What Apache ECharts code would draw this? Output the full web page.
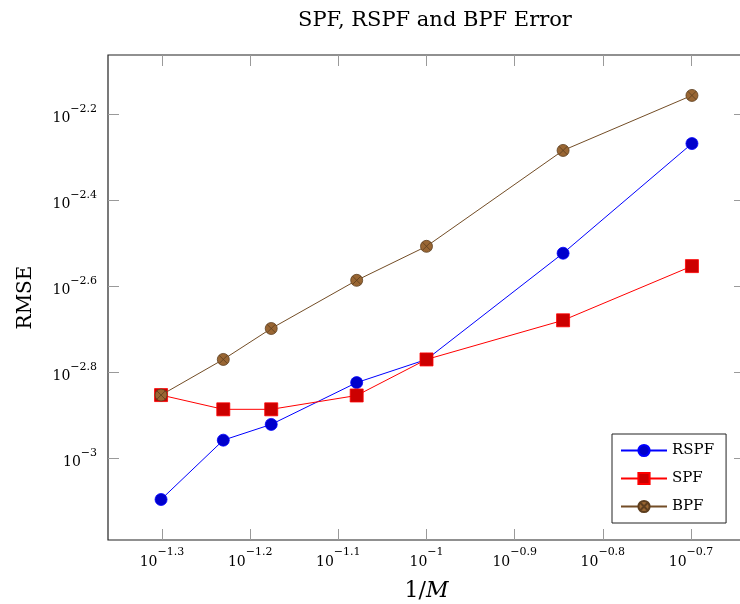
<!DOCTYPE html>
<html>
<head>
<meta charset="utf-8">
<script src="https://cdn.jsdelivr.net/npm/echarts@6/dist/echarts.min.js"></script>
<style>
  html, body { margin: 0; padding: 0; background: #fff; }
  #chart { width: 740px; height: 604px; }
</style>
</head>
<body>
<div id="chart"></div>
<script>
// Number of particles M; plotted against 1/M on a log scale
const particleCounts = [20, 17, 15, 12, 10, 7, 5];

// RMSE for each filter
const rspfRmse = [0.000802, 0.001102, 0.001199, 0.001500, 0.001698, 0.002999, 0.005395];
const spfRmse  = [0.001403, 0.001300, 0.001300, 0.001400, 0.001698, 0.002094, 0.002799];
const bpfRmse  = [0.001403, 0.001698, 0.002004, 0.002594, 0.003112, 0.005200, 0.006982];

// Tick exponents (powers of ten)
const xTickExponents = [-1.3, -1.2, -1.1, -1.0, -0.9, -0.8, -0.7];
const yTickExponents = [-3.0, -2.8, -2.6, -2.4, -2.2];

const FONT = '"DejaVu Serif", "Liberation Serif", serif';

const log10 = v => Math.log10(v);
const xs = particleCounts.map(m => log10(1 / m));
const pairs = arr => arr.map((v, i) => [xs[i], log10(v)]);

function powLabel(v) {
  const r = Math.round(v * 10) / 10;
  const s = (Number.isInteger(r) ? String(Math.abs(r)) : Math.abs(r).toFixed(1));
  return '{b|10}{s|' + (r < 0 ? '\u2212' : '') + s + '}';
}
const labelRich = {
  b: { fontFamily: FONT, fontSize: 14, color: '#000', verticalAlign: 'bottom', lineHeight: 22 },
  s: { fontFamily: FONT, fontSize: 11, color: '#000', verticalAlign: 'top', lineHeight: 22, padding: [0, 0, 10, 0] }
};

const tickStyle = { show: true, inside: true, length: 11, lineStyle: { color: '#9a9a9a', width: 1 } };

// circle with a cross (otimes marker)
const otimes = 'path://M0 10A10 10 0 1 1 20 10A10 10 0 1 1 0 10ZM2.93 2.93L17.07 17.07M17.07 2.93L2.93 17.07';

const chart = echarts.init(document.getElementById('chart'));
chart.setOption({
  animation: false,
  backgroundColor: '#fff',
  title: {
    text: 'SPF, RSPF and BPF Error',
    left: 430, top: 5, textAlign: 'center',
    textStyle: { fontFamily: FONT, fontSize: 21, fontWeight: 'normal', color: '#000' }
  },
  grid: {
    left: 108, top: 55, width: 637, height: 485,
    outerBoundsMode: 'none', containLabel: false,
    show: true, borderColor: '#222', borderWidth: 1.2, backgroundColor: 'transparent'
  },
  legend: {
    orient: 'vertical', left: 612, top: 434,
    backgroundColor: '#fff', borderColor: '#222', borderWidth: 1,
    padding: [9, 12, 9, 8], itemWidth: 46, itemHeight: 14, itemGap: 13,
    textStyle: { fontFamily: FONT, fontSize: 15, color: '#000' },
    data: ['RSPF', 'SPF', 'BPF']
  },
  xAxis: [
    {
      type: 'value', position: 'bottom', min: -1.3612, max: -0.6388,
      axisLine: { show: false }, splitLine: { show: false },
      axisTick: Object.assign({ customValues: xTickExponents }, tickStyle),
      axisLabel: { customValues: xTickExponents, formatter: powLabel, rich: labelRich, margin: 7 },
      name: '{n|1/}{i|M}', nameLocation: 'middle', nameGap: 40,
      nameTextStyle: {
        rich: {
          n: { fontFamily: FONT, fontSize: 22, color: '#000' },
          i: { fontFamily: FONT, fontSize: 22, fontStyle: 'italic', color: '#000' }
        }
      }
    },
    {
      type: 'value', position: 'top', min: -1.3612, max: -0.6388,
      axisLine: { show: false }, splitLine: { show: false },
      axisTick: Object.assign({ customValues: xTickExponents }, tickStyle),
      axisLabel: { show: false }
    }
  ],
  yAxis: [
    {
      type: 'value', position: 'left', min: -3.19, max: -2.062,
      axisLine: { show: false }, splitLine: { show: false },
      axisTick: Object.assign({ customValues: yTickExponents }, tickStyle),
      axisLabel: { customValues: yTickExponents, formatter: powLabel, rich: labelRich, margin: 11 },
      name: 'RMSE', nameLocation: 'middle', nameGap: 72, nameRotate: 90,
      nameTextStyle: { fontFamily: FONT, fontSize: 20, color: '#000' }
    },
    {
      type: 'value', position: 'right', min: -3.19, max: -2.062,
      axisLine: { show: false }, splitLine: { show: false },
      axisTick: Object.assign({ customValues: yTickExponents }, tickStyle),
      axisLabel: { show: false }
    }
  ],
  series: [
    {
      name: 'RSPF', type: 'line', data: pairs(rspfRmse),
      symbol: 'circle', symbolSize: 12,
      lineStyle: { color: '#0000ff', width: 1 },
      itemStyle: { color: '#0000cc', borderColor: '#0000ff', borderWidth: 0.8 },
      z: 3
    },
    {
      name: 'SPF', type: 'line', data: pairs(spfRmse),
      symbol: 'rect', symbolSize: 13,
      lineStyle: { color: '#ff0000', width: 1 },
      itemStyle: { color: '#cc0000', borderColor: '#ff0000', borderWidth: 0.8 },
      z: 4
    },
    {
      name: 'BPF', type: 'line', data: pairs(bpfRmse),
      symbol: otimes, symbolSize: 12,
      lineStyle: { color: '#734d26', width: 1 },
      itemStyle: { color: '#996633', borderColor: '#5c3d1e', borderWidth: 0.8 },
      z: 5
    }
  ]
});
</script>
</body>
</html>
